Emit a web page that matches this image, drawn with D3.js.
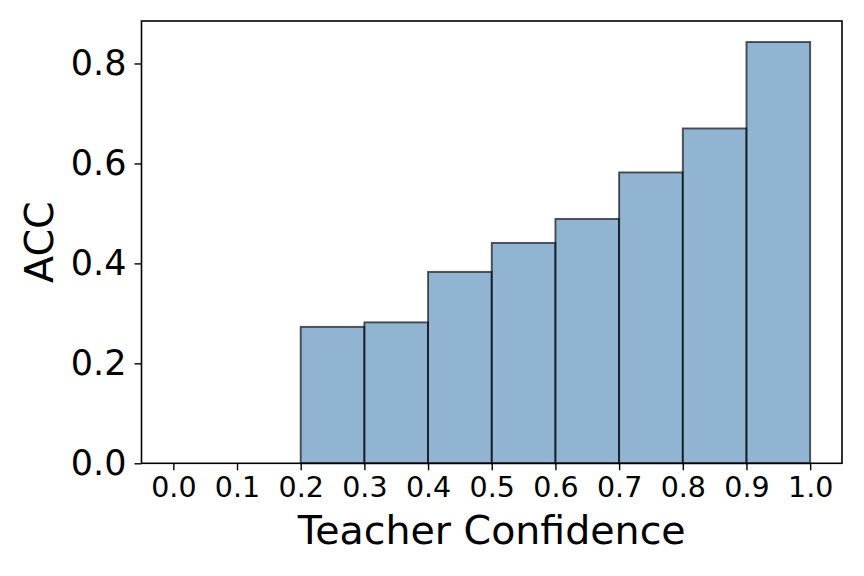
<!DOCTYPE html>
<html>
<head>
<meta charset="utf-8">
<script src="https://cdn.jsdelivr.net/npm/d3@7"></script>
<style>
  html, body { margin: 0; padding: 0; background: #fff; }
  svg { display: block; font-family: "DejaVu Sans", sans-serif; }
</style>
</head>
<body>
<svg id="chart" width="864" height="576"></svg>
<script>
// Data
const binStarts = [0.0, 0.1, 0.2, 0.3, 0.4, 0.5, 0.6, 0.7, 0.8, 0.9];
const accValues = [0.0, 0.0, 0.273, 0.282, 0.383, 0.441, 0.489, 0.582, 0.670, 0.843];
const xTicks = [0.0, 0.1, 0.2, 0.3, 0.4, 0.5, 0.6, 0.7, 0.8, 0.9, 1.0];
const yTicks = [0.0, 0.2, 0.4, 0.6, 0.8];
const binWidth = 0.1;
const xLabel = "Teacher Confidence";
const yLabel = "ACC";

const svg = d3.select("#chart");
const plotL = 141.5, plotR = 842, plotT = 21, plotB = 463.3;

const x = d3.scaleLinear().domain([-0.05, 1.05]).range([plotL, plotR]);
const y = d3.scaleLinear().domain([0, 0.885]).range([plotB, plotT]);

// Bars
svg.append("g").selectAll("rect")
  .data(binStarts.map((s, i) => ({ s, v: accValues[i] })))
  .join("rect")
  .attr("x", d => x(d.s))
  .attr("width", d => x(d.s + binWidth) - x(d.s))
  .attr("y", d => y(d.v))
  .attr("height", d => y(0) - y(d.v))
  .attr("fill", "steelblue")
  .attr("fill-opacity", 0.6)
  .attr("stroke", "black")
  .attr("stroke-opacity", 0.65)
  .attr("stroke-width", 1.9);

// X axis
const xAxis = svg.append("g")
  .attr("transform", `translate(0,${plotB})`)
  .call(d3.axisBottom(x).tickValues(xTicks).tickFormat(d3.format(".1f")).tickSize(7).tickPadding(6));
xAxis.select(".domain").remove();
xAxis.selectAll("line").attr("stroke", "#000").attr("stroke-width", 1.4);
xAxis.selectAll("text").attr("font-size", 28.5).attr("fill", "#000")
  .attr("font-family", "DejaVu Sans");

// Y axis
const yAxis = svg.append("g")
  .attr("transform", `translate(${plotL},0)`)
  .call(d3.axisLeft(y).tickValues(yTicks).tickFormat(d3.format(".1f")).tickSize(7).tickPadding(8));
yAxis.select(".domain").remove();
yAxis.selectAll("line").attr("stroke", "#000").attr("stroke-width", 1.4);
yAxis.selectAll("text").attr("font-size", 35).attr("fill", "#000")
  .attr("font-family", "DejaVu Sans");

// Frame
svg.append("rect")
  .attr("x", plotL).attr("y", plotT)
  .attr("width", plotR - plotL).attr("height", plotB - plotT)
  .attr("fill", "none").attr("stroke", "#000").attr("stroke-width", 1.6);

// Labels
svg.append("text")
  .attr("x", (plotL + plotR) / 2).attr("y", 544)
  .attr("text-anchor", "middle")
  .attr("font-size", 39.5).attr("fill", "#000")
  .text(xLabel);

svg.append("text")
  .attr("transform", `translate(53,${(plotT + plotB) / 2}) rotate(-90)`)
  .attr("text-anchor", "middle")
  .attr("font-size", 39.5).attr("fill", "#000")
  .text(yLabel);
</script>
</body>
</html>
